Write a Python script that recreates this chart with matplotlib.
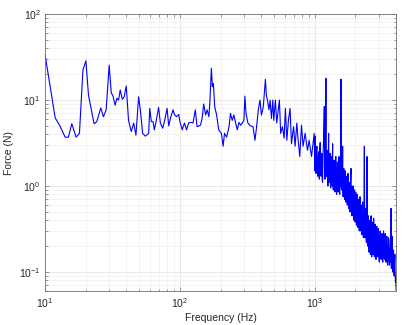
import matplotlib
matplotlib.use("Agg")
import matplotlib.pyplot as plt
import numpy as np
from matplotlib.ticker import LogLocator, NullFormatter

plt.rcParams['font.family'] = ['Liberation Sans', 'DejaVu Sans']
plt.rcParams['mathtext.fontset'] = 'custom'
plt.rcParams['mathtext.rm'] = 'Liberation Sans'
plt.rcParams['mathtext.it'] = 'Liberation Sans'
plt.rcParams['mathtext.bf'] = 'Liberation Sans'

# ---- data (frequency in Hz, force in N) ----
freq_low = [10, 11.9, 12.9, 14.1, 14.9, 15.8, 17.0, 18.0, 19.1, 20.1, 21.0, 23.1, 24.2,
            25.9, 27.1, 28.4, 29.9, 31.0, 31.8, 33.1, 34.1, 35.1, 36.1, 37.4, 38.6, 40.0,
            41.6, 43.6, 45.4, 47.2, 49.4, 50.9, 52.9, 55.4, 58.7, 59.7, 61.4, 63.2, 64.6,
            66.8, 69.5, 71.6, 74.5, 77.1, 80.3, 82.6, 84.9, 88.9, 91, 94.2, 98, 100, 104,
            108, 112, 116, 120, 125, 130, 134, 138]
force_low = [34, 6.2, 5.0, 3.7, 3.7, 5.3, 3.7, 4.1, 22.3, 28.6, 11.4, 5.3, 5.6,
             8.1, 6.4, 7.7, 25.5, 12.0, 11.4, 8.7, 10.5, 10.0, 13.1, 10.2, 10.9, 14.6,
             5.8, 4.3, 5.4, 3.9, 10.9, 7.7, 4.1, 3.8, 4.1, 8.0, 5.6, 5.6, 4.5,
             5.8, 8.2, 5.4, 4.7, 5.8, 8.0, 5.0, 6.1, 7.7, 6.8, 6.4, 6.8, 5.6, 4.5,
             5.4, 4.5, 5.4, 5.5, 5.4, 7.7, 4.9, 5.0]

freq_mid = [142, 146, 150, 155, 159, 164, 167, 171, 174, 177, 181, 187, 194, 203, 209,
            214, 222, 231, 237, 244, 251, 259, 266, 274, 282, 290, 298, 303, 309, 319,
            334, 348, 360, 370, 381, 392, 402, 415, 430, 437, 445, 457, 466, 477, 488,
            496, 510, 522, 534, 546, 558, 575, 592, 605, 620, 637, 655, 671, 695, 714,
            735, 752, 773, 796, 818, 847, 882, 907, 945, 989]
force_mid = [5.1, 6.1, 9.0, 6.7, 7.7, 6.4, 10, 23.4, 14.3, 15.6, 8.4, 6.7, 4.5, 4.1, 2.9,
             4.1, 3.7, 4.9, 7.0, 5.8, 6.7, 5.4, 4.5, 5.5, 5.1, 5.4, 5.8, 11.1, 7.0, 5.4,
             5.0, 4.9, 3.4, 4.9, 7.7, 10, 6.7, 8.4, 17.4, 11.4, 10, 7.7, 10, 6.1, 10,
             5.8, 10, 5.4, 7.3, 10, 4.1, 4.9, 3.6, 8.0, 3.4, 5.8, 8.0, 3.1, 4.9, 2.9,
             5.4, 3.4, 2.2, 5.1, 2.9, 4.1, 2.6, 3.4, 2.2, 4.1]

# high-frequency part as (frequency, force) pairs
high_pairs = [
    (1000, 1.5), (1005, 3.0), (1010, 3.8), (1015, 1.6), (1020, 1.4), (1028, 2.4),
    (1035, 2.9), (1042, 1.5), (1050, 1.3), (1058, 2.2), (1065, 2.5), (1072, 1.4),
    (1080, 1.2), (1088, 2.6), (1095, 3.2), (1102, 1.5), (1110, 1.3), (1118, 2.0),
    (1125, 2.4), (1132, 1.2), (1140, 1.1), (1150, 2.2), (1160, 3.4), (1175, 8.4),
    (1182, 1.6), (1190, 1.2), (1200, 2.5), (1208, 17.9), (1214, 2.0), (1220, 1.3),
    (1228, 2.0), (1235, 2.6), (1242, 1.2), (1250, 1.0), (1258, 2.2), (1265, 4.1),
    (1272, 1.3), (1280, 1.1), (1288, 1.9), (1295, 2.4), (1302, 1.1), (1310, 0.95),
    (1318, 1.8), (1325, 2.2), (1332, 1.2), (1340, 1.0), (1348, 2.1), (1355, 3.1),
    (1362, 1.1), (1370, 0.9), (1380, 1.7), (1390, 2.0), (1400, 1.0), (1410, 0.85),
    (1420, 1.6), (1430, 2.2), (1440, 0.95), (1450, 0.8), (1460, 1.5), (1470, 1.9),
    (1480, 0.9), (1490, 0.85), (1500, 1.6), (1510, 2.2), (1520, 0.9), (1530, 0.8),
    (1538, 1.4), (1545, 1.7), (1553, 1.0), (1561, 17.5), (1568, 1.2), (1575, 0.9),
    (1582, 1.5), (1590, 1.8), (1598, 1.0), (1607, 2.9), (1614, 0.9), (1620, 0.75),
    (1630, 1.3), (1640, 1.6), (1650, 0.8), (1660, 0.7), (1670, 1.2), (1680, 1.5),
    (1690, 0.75), (1700, 0.65), (1710, 1.1), (1720, 1.3), (1730, 0.7), (1740, 0.6),
    (1750, 1.0), (1760, 1.4), (1770, 0.65), (1780, 0.55), (1790, 0.9), (1800, 1.1),
    (1810, 0.6), (1820, 0.5), (1830, 0.9), (1840, 1.2), (1854, 1.6), (1862, 0.6),
    (1870, 0.45), (1880, 0.8), (1890, 1.0), (1900, 0.55), (1910, 0.45), (1920, 0.75),
    (1930, 1.0), (1940, 0.5), (1950, 0.4), (1960, 0.7), (1970, 0.9), (1980, 0.45),
    (1990, 0.38), (2000, 0.65), (2010, 0.85), (2022, 0.42), (2035, 0.35), (2048, 0.6),
    (2060, 0.8), (2072, 0.4), (2085, 0.33), (2098, 0.55), (2110, 0.7), (2122, 0.36),
    (2135, 0.3), (2148, 0.55), (2160, 0.75), (2172, 0.35), (2185, 0.3), (2198, 0.48),
    (2210, 0.6), (2222, 0.32), (2235, 0.27), (2248, 0.45), (2260, 0.65), (2275, 0.3),
    (2290, 0.25), (2310, 0.45), (2328, 2.9), (2340, 0.3), (2350, 0.25), (2365, 0.42),
    (2380, 0.55), (2395, 0.26), (2410, 0.22), (2424, 0.4), (2437, 2.2), (2448, 0.25),
    (2460, 0.2), (2475, 0.35), (2490, 0.45), (2505, 0.2), (2520, 0.17), (2535, 0.3),
    (2550, 0.4), (2565, 0.19), (2580, 0.16), (2595, 0.32), (2610, 0.45), (2625, 0.18),
    (2640, 0.15), (2655, 0.28), (2670, 0.38), (2685, 0.18), (2700, 0.16), (2715, 0.3),
    (2730, 0.42), (2746, 0.17), (2763, 0.15), (2780, 0.28), (2800, 0.36), (2820, 0.16),
    (2840, 0.14), (2860, 0.26), (2880, 0.34), (2900, 0.16), (2920, 0.15), (2940, 0.25),
    (2960, 0.32), (2983, 0.15), (3006, 0.13), (3028, 0.24), (3050, 0.3), (3073, 0.15),
    (3097, 0.14), (3118, 0.22), (3140, 0.28), (3165, 0.14), (3190, 0.13), (3210, 0.22),
    (3230, 0.3), (3254, 0.15), (3277, 0.14), (3298, 0.21), (3320, 0.28), (3345, 0.14),
    (3370, 0.13), (3395, 0.2), (3420, 0.26), (3444, 0.13), (3467, 0.12), (3493, 0.19),
    (3520, 0.25), (3548, 0.13), (3577, 0.12), (3603, 0.18), (3630, 0.24), (3652, 0.13),
    (3673, 0.55), (3690, 0.11), (3700, 0.15), (3720, 0.2), (3740, 0.26), (3762, 0.12),
    (3784, 0.1), (3807, 0.15), (3830, 0.18), (3850, 0.1), (3870, 0.09), (3895, 0.13),
    (3920, 0.16), (3940, 0.09), (3960, 0.075), (3980, 0.09), (4000, 0.062),
]
freq_high = [p[0] for p in high_pairs]
force_high = [p[1] for p in high_pairs]

freq = np.array(freq_low + freq_mid + freq_high, dtype=float)
force = np.array(force_low + force_mid + force_high, dtype=float)

x_label = "Frequency (Hz)"
y_label = "Force (N)"

# ---- figure ----
fig = plt.figure(figsize=(4.04, 3.25), dpi=100)
ax = fig.add_axes([0.1114, 0.1046, 0.869, 0.852])

ax.loglog(freq, force, color='#0000ff', lw=0.8)

ax.set_xlim(10, 4000)
ax.set_ylim(0.06, 100)

ax.xaxis.set_major_locator(LogLocator(base=10, numticks=10))
ax.yaxis.set_major_locator(LogLocator(base=10, numticks=10))
ax.xaxis.set_minor_locator(LogLocator(base=10, subs=np.arange(2, 10), numticks=20))
ax.yaxis.set_minor_locator(LogLocator(base=10, subs=np.arange(2, 10), numticks=20))
ax.xaxis.set_minor_formatter(NullFormatter())
ax.yaxis.set_minor_formatter(NullFormatter())

ax.grid(True, which='major', color='#dedede', lw=0.5)
ax.grid(True, which='minor', color='#efefef', lw=0.5)
ax.set_axisbelow(True)

text_col = '#262626'
for s in ax.spines.values():
    s.set_color('#707070')
    s.set_linewidth(0.6)
ax.tick_params(which='both', direction='in', top=True, right=True,
               colors='#707070', labelcolor=text_col, labelsize=7.5, width=0.5)
ax.tick_params(which='major', length=3)
ax.tick_params(axis='x', which='major', pad=4)
ax.tick_params(axis='y', which='major', pad=3)
ax.tick_params(which='minor', length=1.8)

ax.set_xlabel(x_label, fontsize=7.5, color=text_col, labelpad=2)
ax.set_ylabel(y_label, fontsize=7.5, color=text_col, labelpad=4)

fig.savefig("out.png", dpi=100)
